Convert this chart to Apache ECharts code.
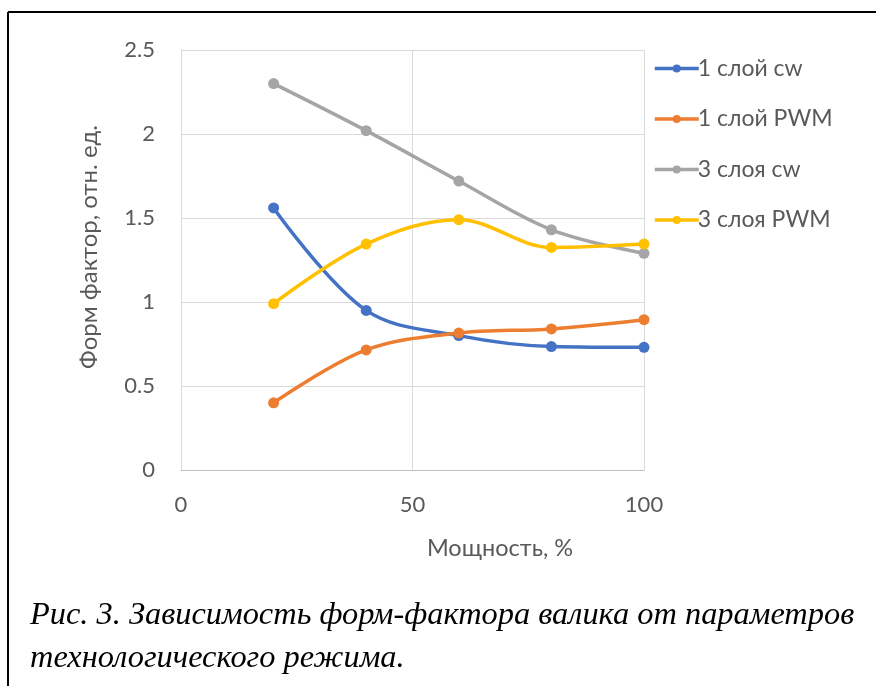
<!DOCTYPE html>
<html>
<head>
<meta charset="utf-8">
<script src="https://cdn.jsdelivr.net/npm/echarts@6/dist/echarts.min.js"></script>
<style>
html,body{margin:0;padding:0;background:#fff;}
#chart{width:876px;height:686px;}
</style>
</head>
<body>
<div id="chart"></div>
<script>
const power = [20, 40, 60, 80, 100];
const seriesNames = ['1 слой cw', '1 слой PWM', '3 слоя cw', '3 слоя PWM'];
const cw1 = [1.56, 0.95, 0.80, 0.735, 0.73];
const pwm1 = [0.40, 0.715, 0.815, 0.84, 0.895];
const cw3 = [2.30, 2.02, 1.72, 1.43, 1.29];
const pwm3 = [0.99, 1.345, 1.49, 1.325, 1.345];
const xTicks = [0, 50, 100];
const yTicks = [0, 0.5, 1, 1.5, 2, 2.5];
const xTitle = 'Мощность, %';
const yTitle = 'Форм фактор, отн. ед.';
const caption1 = 'Рис. 3. Зависимость форм-фактора валика от параметров';
const caption2 = 'технологического режима.';

const colors = ['#4472C4', '#ED7D31', '#A5A5A5', '#FFC000'];
const values = [cw1, pwm1, cw3, pwm3];
const uiFont = "Lato, 'Open Sans', sans-serif";

const chart = echarts.init(document.getElementById('chart'));
chart.setOption({
  animation: false,
  backgroundColor: '#ffffff',
  color: colors,
  grid: { left: 181, top: 50, right: 232, bottom: 216, containLabel: false },
  xAxis: {
    type: 'value', min: xTicks[0], max: xTicks[xTicks.length - 1], interval: 50,
    axisLine: { show: true, lineStyle: { color: '#bfbfbf', width: 1 } },
    axisTick: { show: false },
    splitLine: { show: true, lineStyle: { color: '#d9d9d9', width: 1 } },
    axisLabel: { color: '#595959', fontSize: 22, fontFamily: uiFont, margin: 24 }
  },
  yAxis: {
    type: 'value', min: yTicks[0], max: yTicks[yTicks.length - 1], interval: 0.5,
    axisLine: { show: true, lineStyle: { color: '#d9d9d9', width: 1 } },
    axisTick: { show: false },
    splitLine: { show: true, lineStyle: { color: '#d9d9d9', width: 1 } },
    axisLabel: { color: '#595959', fontSize: 22, fontFamily: uiFont, margin: 26 }
  },
  legend: {
    orient: 'vertical', left: 648, top: 52,
    itemWidth: 44, itemHeight: 10, itemGap: 27.5,
    lineStyle: { width: 3.5 },
    textStyle: { color: '#595959', fontSize: 23, fontFamily: uiFont, lineHeight: 22, padding: [0,0,0,-6] },
    data: seriesNames
  },
  series: seriesNames.map((name, i) => ({
    name: name,
    type: 'line',
    smooth: 0.35,
    symbol: 'circle',
    symbolSize: 11,
    lineStyle: { width: 3.5, color: colors[i] },
    itemStyle: { color: colors[i] },
    data: power.map((p, j) => [p, values[i][j]])
  })),
  graphic: [
    { type: 'line', shape: { x1: 8, y1: 12, x2: 876, y2: 12 }, style: { stroke: '#000', lineWidth: 2 } },
    { type: 'line', shape: { x1: 8, y1: 12, x2: 8, y2: 686 }, style: { stroke: '#000', lineWidth: 2 } },
    { type: 'text', x: 89, y: 247, rotation: Math.PI / 2,
      style: { text: yTitle, fill: '#595959', font: "24px " + uiFont, align: 'center', verticalAlign: 'middle' } },
    { type: 'text', x: 500, y: 548,
      style: { text: xTitle, fill: '#595959', font: "23.5px " + uiFont, align: 'center', verticalAlign: 'middle' } },
    { type: 'text', x: 30, y: 615,
      style: { text: caption1, fill: '#000', font: "italic 32.4px 'Liberation Serif', 'Times New Roman', serif", align: 'left', verticalAlign: 'middle' } },
    { type: 'text', x: 30, y: 658,
      style: { text: caption2, fill: '#000', font: "italic 32.4px 'Liberation Serif', 'Times New Roman', serif", align: 'left', verticalAlign: 'middle' } }
  ]
});
</script>
</body>
</html>
